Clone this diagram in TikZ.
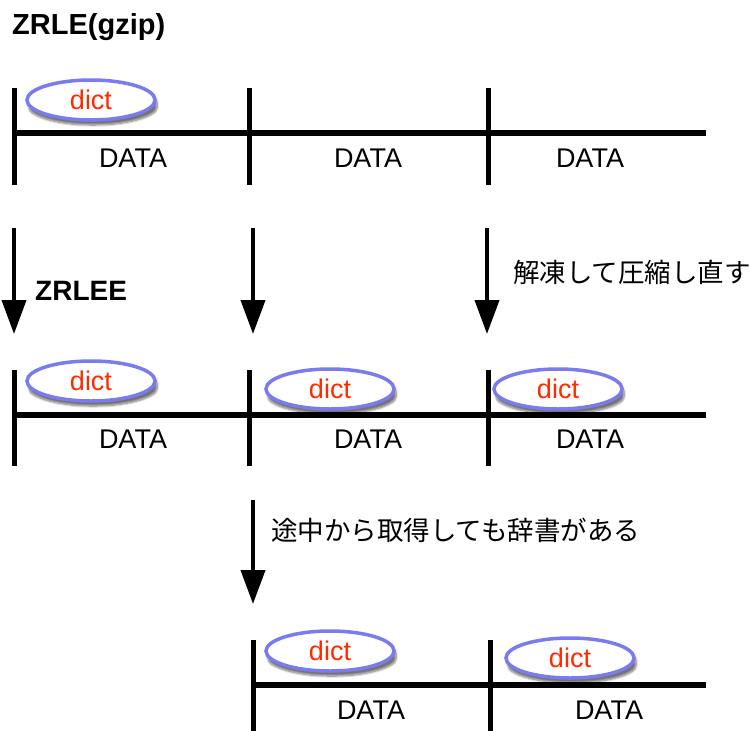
\documentclass[tikz,border=0pt]{standalone}
\usepackage{fontspec}
\setmainfont{Liberation Sans}
\newfontfamily\jpfont{Noto Sans CJK JP}
\usetikzlibrary{shapes.geometric,shadows.blur,arrows.meta}
\definecolor{dictborder}{HTML}{7B7BF0}
\definecolor{dicttext}{HTML}{FF2A00}
\tikzset{
  bar/.style={line width=5.5pt},
  tick/.style={line width=5pt},
  dictnode/.style={ellipse, draw=dictborder, line width=3.5pt, fill=white,
     minimum width=128pt, minimum height=40pt, inner sep=0pt,
     text=dicttext, font=\fontsize{27}{29}\selectfont,
     blur shadow={shadow xshift=2pt, shadow yshift=-5pt, shadow blur steps=8, shadow blur extra rounding=3pt, shadow opacity=55}},
  datalabel/.style={font=\fontsize{27}{29}\selectfont, inner sep=0pt},
  downarrow/.style={line width=4pt, -{Triangle[width=24pt,length=34pt]}},
  note/.style={font=\jpfont\fontsize{26.5}{29}\selectfont, anchor=west, inner sep=0pt},
  heading/.style={font=\bfseries\fontsize{28}{30}\selectfont, anchor=west, inner sep=0pt}
}
\begin{document}
\begin{tikzpicture}[x=1pt,y=-1pt]
\useasboundingbox (0,0) rectangle (750,731);
\node[heading, font=\bfseries\fontsize{29}{31}\selectfont] (title) at (12,27) {ZRLE(gzip)};
% Row 1
\coordinate (r1s) at (12,133); \coordinate (r1e) at (706,133);
\draw[bar] (r1s) -- (r1e);
\coordinate (t1a) at (14,88); \coordinate (t1b) at (14,185);
\coordinate (t2a) at (249,88); \coordinate (t2b) at (249,185);
\coordinate (t3a) at (488,88); \coordinate (t3b) at (488,185);
\draw[tick] (t1a) -- (t1b);
\draw[tick] (t2a) -- (t2b);
\draw[tick] (t3a) -- (t3b);
\node[dictnode] (d1) at (91,100) {dict};
\node[datalabel] (l11) at (133,158) {DATA};
\node[datalabel] (l12) at (368,158) {DATA};
\node[datalabel] (l13) at (590,158) {DATA};
% arrows
\coordinate (a1s) at (14,228); \coordinate (a1e) at (14,334);
\coordinate (a2s) at (253,228); \coordinate (a2e) at (253,334);
\coordinate (a3s) at (487,228); \coordinate (a3e) at (487,334);
\draw[downarrow] (a1s) -- (a1e);
\draw[downarrow] (a2s) -- (a2e);
\draw[downarrow] (a3s) -- (a3e);
\node[heading] (zrlee) at (35,291) {ZRLEE};
\node[note] (n1) at (513,272) {解凍して圧縮し直す};
% Row 2
\coordinate (r2s) at (12,415); \coordinate (r2e) at (706,415);
\draw[bar] (r2s) -- (r2e);
\coordinate (u1a) at (14,370); \coordinate (u1b) at (14,466);
\coordinate (u2a) at (249,370); \coordinate (u2b) at (249,466);
\coordinate (u3a) at (488,370); \coordinate (u3b) at (488,466);
\draw[tick] (u1a) -- (u1b);
\draw[tick] (u2a) -- (u2b);
\draw[tick] (u3a) -- (u3b);
\node[dictnode] (d21) at (91,381) {dict};
\node[dictnode] (d22) at (330,389) {dict};
\node[dictnode] (d23) at (558,389) {dict};
\node[datalabel] (l21) at (133,439) {DATA};
\node[datalabel] (l22) at (368,439) {DATA};
\node[datalabel] (l23) at (590,439) {DATA};
% arrow 4
\coordinate (a4s) at (253,500); \coordinate (a4e) at (253,604);
\draw[downarrow] (a4s) -- (a4e);
\node[note] (n2) at (271,530) {途中から取得しても辞書がある};
% Row 3
\coordinate (r3s) at (251,685); \coordinate (r3e) at (706,685);
\draw[bar] (r3s) -- (r3e);
\coordinate (v1a) at (253,640); \coordinate (v1b) at (253,731);
\coordinate (v2a) at (490,640); \coordinate (v2b) at (490,731);
\draw[tick] (v1a) -- (v1b);
\draw[tick] (v2a) -- (v2b);
\node[dictnode] (d31) at (330,651) {dict};
\node[dictnode] (d32) at (570,658) {dict};
\node[datalabel] (l31) at (371,710) {DATA};
\node[datalabel] (l32) at (609,710) {DATA};
\end{tikzpicture}
\end{document}
